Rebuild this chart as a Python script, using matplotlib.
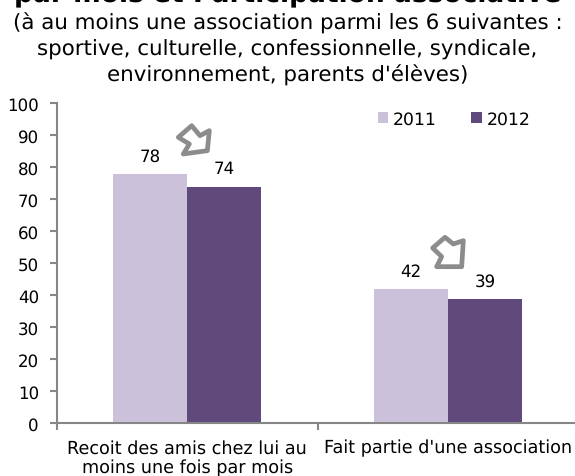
import numpy as np
import matplotlib
matplotlib.use("Agg")
import matplotlib.pyplot as plt
from matplotlib.patches import Polygon

# Data
categories = ["Recoit des amis chez lui au\nmoins une fois par mois", "Fait partie d'une association"]
values_2011 = [78, 42]
values_2012 = [74, 39]
yticks = list(range(0, 101, 10))

W, H = 575, 477
grey = "#868686"
plt.rcParams["text.hinting"] = "no_hinting"

fig = plt.figure(figsize=(W / 100, H / 100), dpi=100)
ax = fig.add_axes([57 / W, 1 - 424.3 / H, (578 - 57) / W, 320 / H], clip_on=False)

x = np.arange(len(categories))
bar_w = 0.285
ax.bar(x - bar_w / 2, values_2011, bar_w, color="#CCC1DA", label="2011")
ax.bar(x + bar_w / 2, values_2012, bar_w, color="#604A7B", label="2012")

# value labels
for i in range(len(categories)):
    ax.text(x[i] - bar_w / 2, values_2011[i] + 3, str(values_2011[i]), ha="center", va="bottom", fontsize=12)
    ax.text(x[i] + bar_w / 2, values_2012[i] + 3, str(values_2012[i]), ha="center", va="bottom", fontsize=12)

ax.set_xlim(-0.5, 1.5)
ax.set_ylim(0, 100)
ax.set_yticks(yticks)
ax.tick_params(axis="y", labelsize=12, color=grey, width=1.5, length=5, pad=8)
ax.set_xticks([-0.5, 0.5, 1.5])
ax.set_xticklabels([])
ax.tick_params(axis="x", color=grey, width=1.5, length=5)
for i, c in enumerate(categories):
    ax.text(x[i], -4.8, c, ha="center", va="top", fontsize=12.7, linespacing=1.18)

for s in ["top", "right"]:
    ax.spines[s].set_visible(False)
for s in ["left", "bottom"]:
    ax.spines[s].set_color(grey)
    ax.spines[s].set_linewidth(1.5)

leg = ax.legend(loc="upper right", bbox_to_anchor=(0.939, 1.025), ncol=2, frameon=False, fontsize=12.4,
                handlelength=0.6, handleheight=0.6, handletextpad=0.3, columnspacing=2.0)

# titles (top line is cut by the picture edge)
fig.text(0.5, 1 - 2.7 / H, "par mois et Participation associative", ha="center", va="baseline",
         fontsize=19.1, fontweight="bold")
fig.text(0.5, 1 - 23 / H, "(à au moins une association parmi les 6 suivantes :", ha="center", va="center", fontsize=15.4)
fig.text(0.5, 1 - 49.5 / H, "sportive, culturelle, confessionnelle, syndicale,", ha="center", va="center", fontsize=15.4)
fig.text(0.5, 1 - 75.5 / H, "environnement, parents d'élèves)", ha="center", va="center", fontsize=15.4)

# hand-drawn evolution arrows
def arrow(x0, y0, pts):
    xy = [((x0 + a / 3) / W, 1 - (y0 + b / 3) / H) for a, b in pts]
    fig.add_artist(Polygon(xy, closed=True, transform=fig.transFigure, fill=False,
                           edgecolor="#8c8c8c", linewidth=3.4, joinstyle="round"))

arrow(150, 110, [(125, 50), (150, 80), (178, 65), (172, 125), (100, 135), (118, 105), (85, 85)])
arrow(410, 225, [(105, 40), (130, 60), (160, 50), (155, 128), (80, 128), (95, 98), (68, 72)])

fig.savefig("out.png", dpi=100)
